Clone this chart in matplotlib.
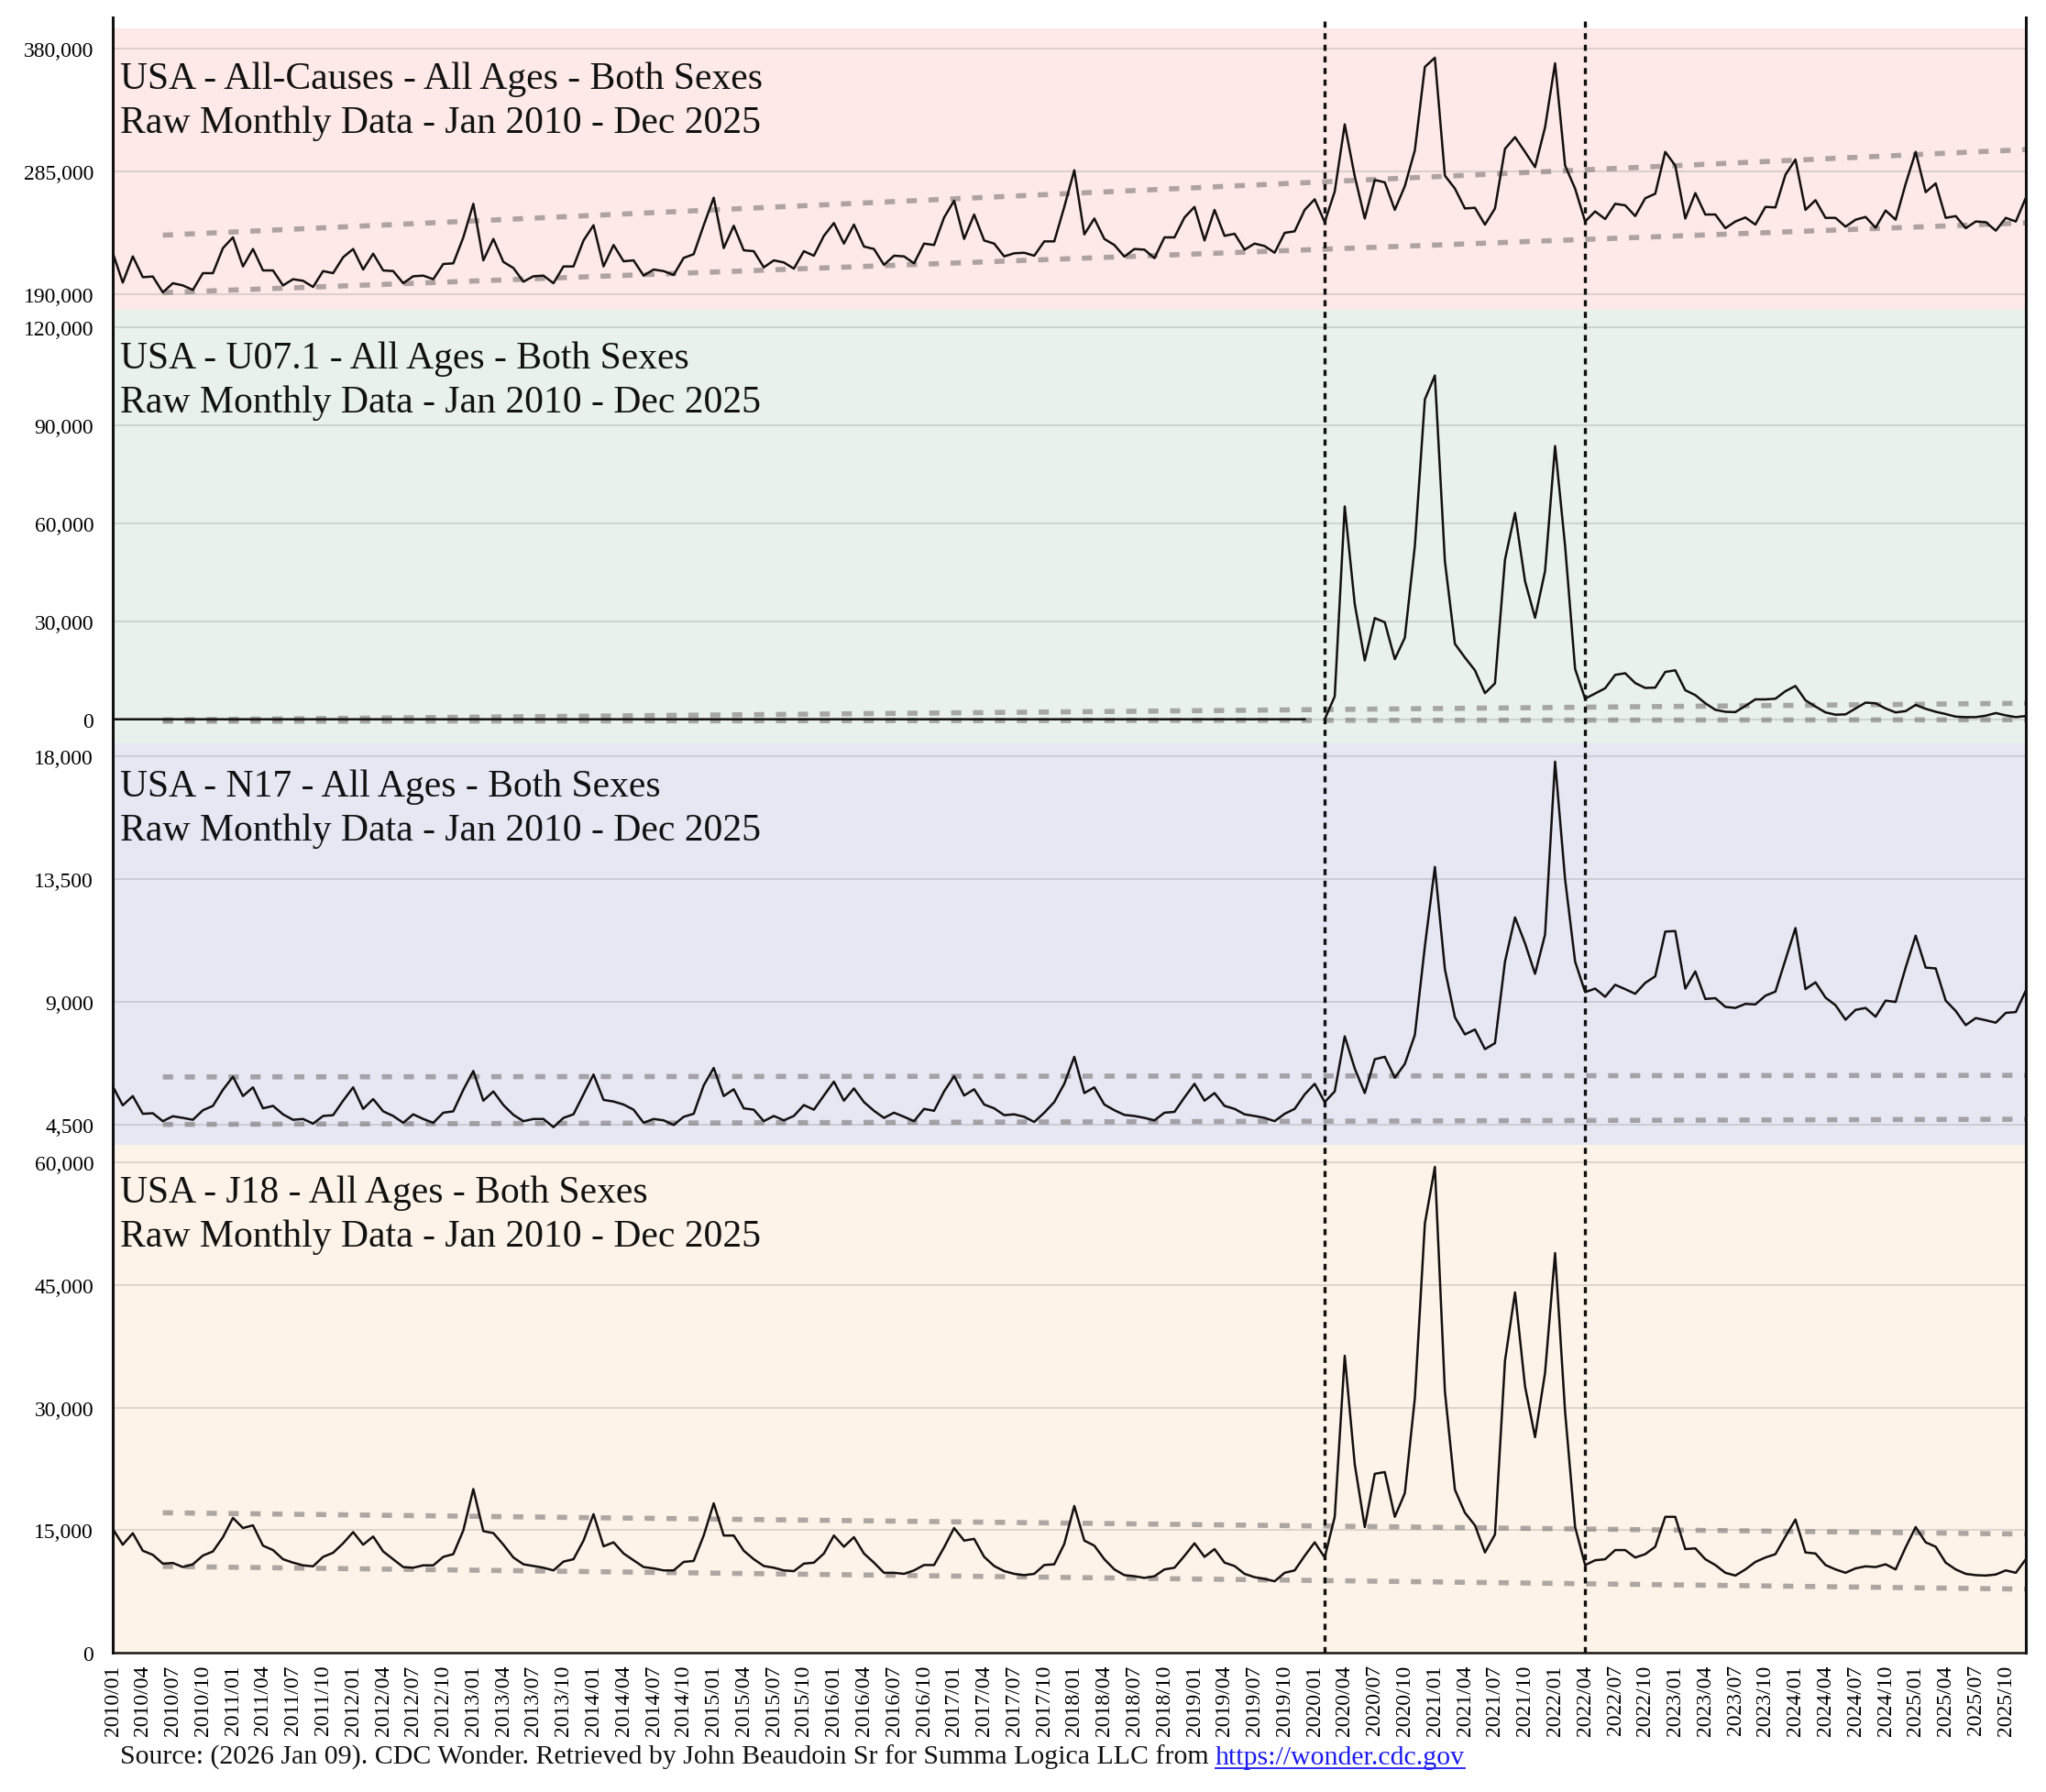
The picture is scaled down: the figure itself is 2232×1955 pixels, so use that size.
import matplotlib.pyplot as plt
import numpy as np
from matplotlib.lines import Line2D

plt.rcParams['font.family'] = ['Liberation Serif', 'DejaVu Serif']

nan = np.nan

# monthly deaths, Jan 2010 - Dec 2025
all_causes = [
    221900, 198800, 219100, 203000, 203500, 191200, 198300, 196600, 193100, 206100, 206100, 225500,
    233800, 211300, 224800, 208200, 208200, 196600, 201400, 200200, 195400, 207700, 206100, 218400,
    224800, 208900, 221200, 208200, 207700, 198300, 203700, 204200, 201400, 213200, 213700, 233800,
    259800, 216000, 232600, 214800, 210100, 199500, 203700, 204200, 198300, 211300, 211300, 231400,
    243200, 211300, 227900, 215300, 216000, 204200, 208900, 207700, 204700, 217900, 220800, 243200,
    264500, 225500, 242800, 223800, 223100, 210600, 216000, 214400, 209600, 223100, 219600, 235000,
    244900, 229000, 243700, 226700, 224800, 212500, 219600, 219100, 213700, 229000, 227900, 249200,
    262200, 232600, 251500, 231400, 229000, 219100, 221500, 221900, 219600, 230700, 230700, 257400,
    285800, 236100, 248400, 232600, 227900, 218900, 224800, 224300, 217700, 233800, 233800, 249200,
    257400, 231400, 255100, 235000, 236600, 224300, 229000, 227100, 221900, 237300, 238500, 255100,
    263300, 245600, 269300, 321300, 281100, 248400, 278300, 276400, 255100, 273500, 301200, 365800,
    372900, 281600, 271600, 256200, 256700, 243700, 256200, 302400, 311400, 300000, 288200, 319000,
    368600, 289400, 271600, 246100, 253900, 248000, 259800, 258600, 250300, 264100, 267600, 300000,
    289400, 248400, 268100, 251500, 251500, 240900, 246100, 249200, 243700, 257400, 257000, 282300,
    294100, 255100, 262600, 248900, 248900, 242100, 247500, 249600, 241300, 254600, 247500, 275200,
    300000, 268800, 275600, 248900, 250300, 240900, 246100, 245600, 239000, 248900, 246100, 264500,
]

u071 = [0] * 120 + [
    nan, 0, 7000, 65200, 35300, 18000, 31000, 29700, 18400, 25000, 53100, 98000,
    105300, 48400, 23100, 18900, 15000, 8000, 11000, 48900, 63200, 42300, 31100, 45400,
    83700, 53100, 15400, 6300, 7900, 9500, 13600, 14100, 11100, 9600, 9700, 14500,
    15000, 8900, 7400, 4900, 2900, 2300, 2200, 4100, 6100, 6100, 6300, 8600,
    10200, 5800, 3900, 2100, 1400, 1500, 3300, 5100, 4900, 3300, 2100, 2500,
    4400, 3200, 2300, 1600, 800, 650, 650, 1100, 1900, 1200, 650, 1000,
]

n17 = [
    5900, 5200, 5540, 4890, 4910, 4620, 4800, 4740, 4670, 5020, 5180, 5770,
    6250, 5540, 5860, 5090, 5180, 4870, 4670, 4700, 4530, 4810, 4840, 5370,
    5860, 5070, 5430, 4980, 4810, 4560, 4870, 4700, 4560, 4930, 4980, 5770,
    6460, 5370, 5710, 5210, 4850, 4620, 4700, 4700, 4400, 4740, 4870, 5600,
    6330, 5400, 5340, 5230, 5040, 4560, 4700, 4650, 4480, 4780, 4890, 5930,
    6570, 5540, 5790, 5090, 5040, 4620, 4810, 4650, 4810, 5210, 5040, 5560,
    6070, 5370, 5820, 5320, 5000, 4740, 4930, 4780, 4620, 5070, 5000, 5710,
    6270, 5560, 5790, 5230, 5090, 4840, 4870, 4780, 4590, 4930, 5320, 5990,
    6980, 5650, 5860, 5230, 5020, 4850, 4810, 4740, 4650, 4930, 4960, 5490,
    5990, 5370, 5650, 5180, 5070, 4870, 4810, 4740, 4620, 4890, 5070, 5600,
    5990, 5320, 5710, 7730, 6550, 5650, 6890, 6980, 6210, 6720, 7780, 11030,
    13940, 10190, 8430, 7800, 7980, 7260, 7480, 10470, 12090, 11140, 10020, 11460,
    17800, 13490, 10470, 9350, 9480, 9180, 9620, 9460, 9290, 9690, 9930, 11570,
    11590, 9480, 10110, 9100, 9130, 8810, 8770, 8920, 8900, 9220, 9370, 10530,
    11700, 9460, 9710, 9150, 8870, 8340, 8700, 8770, 8450, 9040, 8990, 10250,
    11420, 10250, 10220, 9040, 8660, 8140, 8400, 8320, 8230, 8590, 8620, 9410,
]

j18 = [
    15150, 13200, 14600, 12460, 11960, 10880, 10960, 10460, 10800, 11870, 12370, 14120,
    16480, 15240, 15570, 13080, 12540, 11420, 11000, 10670, 10550, 11710, 12210, 13370,
    14740, 13200, 14200, 12370, 11420, 10460, 10380, 10670, 10670, 11710, 12040, 14950,
    20010, 14860, 14620, 13200, 11630, 10800, 10590, 10380, 10050, 11130, 11420, 13700,
    16940, 13000, 13490, 12120, 11290, 10460, 10300, 10050, 10050, 11090, 11210, 14320,
    18270, 14320, 14320, 12460, 11420, 10590, 10380, 10050, 9960, 10880, 11000, 12120,
    14320, 12950, 14120, 12120, 11000, 9760, 9760, 9630, 10050, 10710, 10710, 12870,
    15240, 13700, 13910, 11710, 10590, 9960, 9630, 9470, 9630, 10710, 10800, 13290,
    17940, 13700, 13080, 11420, 10170, 9470, 9340, 9130, 9340, 10170, 10380, 11830,
    13370, 11710, 12660, 11000, 10590, 9630, 9220, 9010, 8720, 9760, 10050, 11830,
    13490, 11630, 16610, 36330, 23040, 15360, 21880, 22090, 16610, 19510, 31140, 52520,
    59460, 31970, 19930, 17110, 15570, 12250, 14450, 35710, 44090, 32590, 26370, 34250,
    48910, 29480, 15360, 10710, 11290, 11420, 12540, 12540, 11630, 12040, 12950, 16610,
    16610, 12660, 12750, 11420, 10710, 9760, 9420, 10170, 11090, 11630, 12040, 14200,
    16280, 12250, 12120, 10710, 10170, 9760, 10300, 10550, 10460, 10800, 10170, 12870,
    15360, 13490, 12950, 11000, 10170, 9630, 9470, 9420, 9550, 10050, 9760, 11420,
]

# grey trend envelopes: (start, end) values, drawn from 2010/06 to 2025/12
trend_all_causes = [(235500, 301800), (191000, 245000)]
trend_u071 = [(-200, 4900), (-600, -150)]
trend_n17 = [(6240, 6300), (4500, 4690)]
trend_j18 = [(17110, 14500), (10540, 7760)]

titles = ['USA - All-Causes - All Ages - Both Sexes',
          'USA - U07.1 - All Ages - Both Sexes',
          'USA - N17 - All Ages - Both Sexes',
          'USA - J18 - All Ages - Both Sexes']
subtitle = 'Raw Monthly Data - Jan 2010 - Dec 2025'

months = [f'{y}/{m:02d}' for y in range(2010, 2026) for m in range(1, 13)]
x = np.arange(len(months))
marker_months = ['2020/02', '2022/04']

W, H = 2232, 1956
fig = plt.figure(figsize=(W / 100, H / 100), dpi=100)

def fx(px):
    return px / W

def fy(py):
    return 1 - py / H

L, R = 123, 2210

# top px, bottom px, ylim, ticks, face colour, series, trend, title baseline
panels = [
    (32, 339.3, (177500, 395600), [190000, 285000, 380000], '#fde9e7',
     all_causes, trend_all_causes, 97),
    (339.3, 812.3, (-7470, 125340), [0, 30000, 60000, 90000, 120000], '#e8f1ec',
     u071, trend_u071, 402),
    (812.3, 1249.7, (3761, 18460), [4500, 9000, 13500, 18000], '#e5e7f3',
     n17, trend_n17, 869),
    (1249.7, 1803.8, (0, 62190), [0, 15000, 30000, 45000, 60000], '#fdf3e8',
     j18, trend_j18, 1312),
]

axes = []
for k, (top, bot, ylim, ticks, face, series, trend, base) in enumerate(panels):
    ax = fig.add_axes([fx(L), fy(bot), fx(R - L), (bot - top) / H])
    ax.set_facecolor(face)
    ax.plot(x, series, color='#141010', lw=1.8, zorder=3)
    for a, b in trend:
        ax.plot([5, 191], [a, b], color='#7a7474', alpha=0.6, lw=4,
                dashes=(2.0, 2.3), solid_capstyle='butt', zorder=2)
    ax.set_xlim(0, 191)
    ax.set_ylim(*ylim)
    ax.set_yticks(ticks)
    ax.set_yticklabels([f'{t:,}' for t in ticks])
    ax.yaxis.grid(True, color='#808080', alpha=0.3, lw=1.2)
    ax.set_axisbelow(True)
    ax.tick_params(axis='y', length=0, pad=15, labelsize=17)
    for s in ['top', 'right', 'left', 'bottom']:
        ax.spines[s].set_visible(False)
    if k == 3:
        ax.set_xticks(x[::3])
        ax.set_xticklabels(months[::3], rotation=90)
        ax.tick_params(axis='x', length=0, pad=9, labelsize=17)
        ax.spines['bottom'].set_visible(True)
        ax.spines['bottom'].set_color('#1c1714')
        ax.spines['bottom'].set_linewidth(1.8)
    else:
        ax.set_xticks([])
    fig.text(fx(131), fy(base), titles[k], fontsize=30, va='baseline', color='#111')
    fig.text(fx(131), fy(base + 48), subtitle, fontsize=30, va='baseline', color='#111')
    axes.append(ax)

# overlay with the frame and the two marker lines across all panels
ov = fig.add_axes([fx(L), fy(1803.8), fx(R - L), (1803.8 - 20) / H])
ov.patch.set_alpha(0)
ov.set_xlim(0, 191)
ov.set_ylim(0, 1)
ov.set_xticks([])
ov.set_yticks([])
for s in ['top', 'bottom']:
    ov.spines[s].set_visible(False)
for s in ['left', 'right']:
    ov.spines[s].set_color('#111')
    ov.spines[s].set_linewidth(2.2)
for m in marker_months:
    ov.axvline(months.index(m), color='#111', lw=2.4, dashes=(2.0, 1.8))

src = fig.text(fx(131), fy(1925),
               'Source: (2026 Jan 09). CDC Wonder. Retrieved by John Beaudoin Sr '
               'for Summa Logica LLC from ', fontsize=21.5, va='baseline', color='#111')
fig.canvas.draw()
bb = src.get_window_extent()
url = fig.text(bb.x1 / W, fy(1925), 'https://wonder.cdc.gov', fontsize=21.5,
               va='baseline', color='#1a1aee')
fig.canvas.draw()
ub = url.get_window_extent()
fig.add_artist(Line2D([ub.x0 / W, ub.x1 / W], [fy(1930), fy(1930)],
                      transform=fig.transFigure, color='#1a1aee', lw=1.3))

fig.savefig('out.png', dpi=100)
